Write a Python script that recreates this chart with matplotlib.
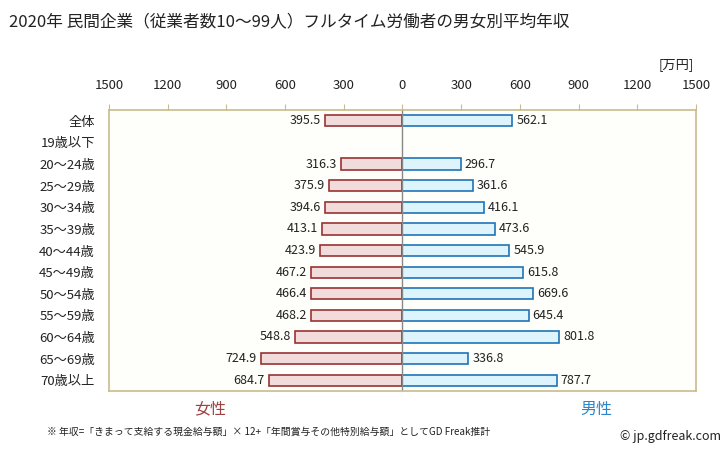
import matplotlib.pyplot as plt

plt.rcParams['font.family'] = ['Noto Sans CJK JP', 'DejaVu Sans']

categories = ['全体', '19歳以下', '20～24歳', '25～29歳', '30～34歳', '35～39歳', '40～44歳',
              '45～49歳', '50～54歳', '55～59歳', '60～64歳', '65～69歳', '70歳以上']
female = [395.5, None, 316.3, 375.9, 394.6, 413.1, 423.9, 467.2, 466.4, 468.2, 548.8, 724.9, 684.7]
male = [562.1, None, 296.7, 361.6, 416.1, 473.6, 545.9, 615.8, 669.6, 645.4, 801.8, 336.8, 787.7]
ticks = [-1500, -1200, -900, -600, -300, 0, 300, 600, 900, 1200, 1500]

fig = plt.figure(figsize=(7.28, 4.51), dpi=100)
ax = fig.add_axes([0.1497, 0.133, 0.8063, 0.623])
ax.set_facecolor('#FEFEFA')

for i, (f, m) in enumerate(zip(female, male)):
    if f is not None:
        ax.barh(i, -f, height=0.52, color='#F2DCDB', edgecolor='#993333', linewidth=1.2)
        ax.text(-f - 20, i, f'{f:.1f}', ha='right', va='center', fontsize=9, color='#222222')
    if m is not None:
        ax.barh(i, m, height=0.52, color='#DDF4FD', edgecolor='#1F73B8', linewidth=1.2)
        ax.text(m + 20, i, f'{m:.1f}', ha='left', va='center', fontsize=9, color='#222222')

ax.axvline(0, color='#888888', linewidth=1)
ax.set_xlim(-1500, 1500)
ax.set_ylim(12.5, -0.5)
ax.set_xticks(ticks)
ax.set_xticklabels([str(abs(t)) for t in ticks])
ax.xaxis.tick_top()
ax.tick_params(axis='x', length=4, color='#C8BC8C', labelsize=9.5, pad=9, labelcolor='#222222')
ax.set_yticks(range(len(categories)))
ax.set_yticklabels(categories)
ax.tick_params(axis='y', length=0, labelsize=9.5, pad=10, labelcolor='#222222')
for s in ax.spines.values():
    s.set_color('#C8BC8C')
    s.set_linewidth(1.2)

fig.text(0.013, 0.952, '2020年 民間企業（従業者数10～99人）フルタイム労働者の男女別平均年収',
         fontsize=12, va='center', color='#222222')
fig.text(0.953, 0.857, '[万円]', fontsize=9.5, ha='right', va='center', color='#222222')
fig.text(0.289, 0.093, '女性', fontsize=11.5, ha='center', va='center', color='#A04040')
fig.text(0.819, 0.093, '男性', fontsize=11.5, ha='center', va='center', color='#2E86C8')
fig.text(0.065, 0.043, '※ 年収=「きまって支給する現金給与額」× 12+「年間賞与その他特別給与額」としてGD Freak推計',
         fontsize=7.1, va='center', color='#222222')
fig.text(0.99, 0.033, '© jp.gdfreak.com', fontsize=9, ha='right', va='center', color='#222222')

fig.savefig('out.png', dpi=100)
